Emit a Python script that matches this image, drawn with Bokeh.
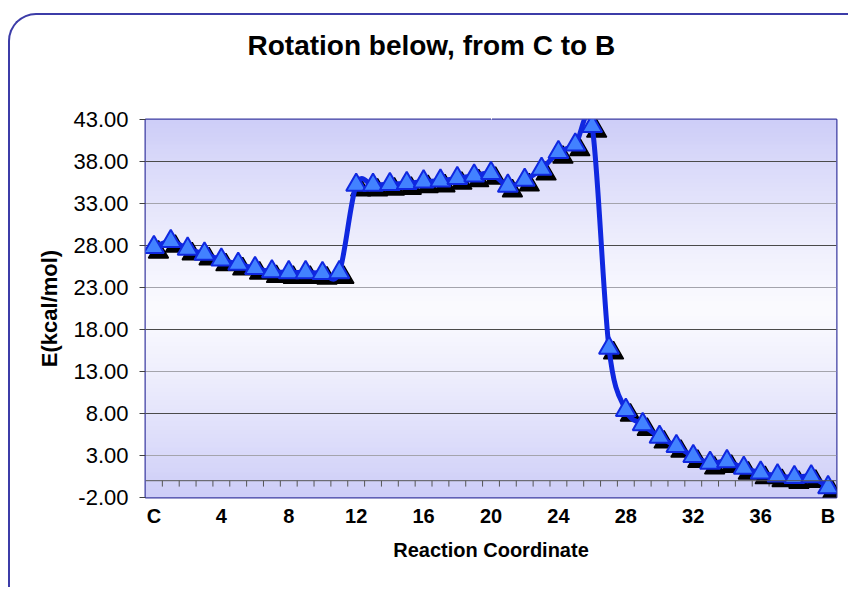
import numpy as np
from bokeh.plotting import figure
from bokeh.models import FixedTicker, NumeralTickFormatter, Grid, Range1d, Span, LinearAxis
from bokeh.embed import file_html
from bokeh.resources import INLINE

# ---- data ----
category_labels = ["C"] + [str(i) for i in range(1, 40)] + ["B"]
category_index = list(range(41))
energy = [27.8, 28.5, 27.6, 27.0, 26.3, 25.8, 25.3, 24.9, 24.8, 24.8, 24.7, 24.8,
          35.2, 35.2, 35.3, 35.4, 35.6, 35.7, 36.0, 36.3, 36.6,
          35.1, 35.8, 37.1, 39.1, 40.0, 42.2,
          15.8, 8.4, 6.7, 5.2, 4.1, 2.9, 2.1, 2.3, 1.5, 0.95, 0.6, 0.4, 0.5, -0.8]
y_ticks = [-2, 3, 8, 13, 18, 23, 28, 33, 38, 43]
x_label_ticks = [0, 4, 8, 12, 16, 20, 24, 28, 32, 36, 40]
title_text = "Rotation below, from C to B"

FONT = "Liberation Sans"
LINE_BLUE = "#1028e0"
FILL_BLUE = "#4282ff"
BORDER = "#3c3ca8"

p = figure(width=840, height=574, output_backend="svg", toolbar_location=None,
           x_range=Range1d(-0.5, 40.5), y_range=Range1d(-2, 43),
           min_border_left=135, min_border_right=14, min_border_top=104, min_border_bottom=92)
p.styles = {"margin-left": "8px", "margin-top": "13px",
            "border-top": f"2px solid {BORDER}", "border-left": f"2px solid {BORDER}",
            "border-top-left-radius": "28px"}
p.border_fill_color = "white"
p.border_fill_alpha = 0
p.outline_line_color = "#3c3ca2"
p.outline_line_width = 2

xa = p.below[0]
ya = p.left[0]

# invisible spacer above the frame (one white tick), so that the title sits higher
spacer = LinearAxis(ticker=FixedTicker(ticks=[20]), axis_line_color=None,
                    major_tick_line_color="white", minor_tick_line_color=None,
                    major_tick_out=54, major_tick_in=0, minor_tick_out=0,
                    major_label_overrides={20: ""}, major_label_standoff=0,
                    major_label_text_font_size="1px")
p.add_layout(spacer, "above")

# title
p.title.text = title_text
p.title.text_font = FONT
p.title.text_font_size = "28px"
p.title.text_font_style = "bold"
p.title.text_color = "black"
p.title.align = "left"
p.title.offset = 102
p.title.standoff = 10

# gradient background of plot area
n = 90
t = np.linspace(0, 1, n)
d = np.abs(2 * t - 1) ** 1.2
edge = np.array([206, 206, 248])
center = np.array([251, 251, 255])
cols = center[None, :] + (edge - center)[None, :] * d[:, None]
img = np.empty((n, 1), dtype=np.uint32)
view = img.view(dtype=np.uint8).reshape((n, 1, 4))
view[:, 0, 0] = cols[:, 0]
view[:, 0, 1] = cols[:, 1]
view[:, 0, 2] = cols[:, 2]
view[:, 0, 3] = 255
bg = p.image_rgba(image=[img], x=-0.5, y=-2, dw=41, dh=45)
bg.level = "image"

# grid lines (alternating dark / light)
p.xgrid.visible = False
p.ygrid.ticker = FixedTicker(ticks=y_ticks[2::2])
p.ygrid.grid_line_color = "#4a4a4a"
g2 = Grid(dimension=1, ticker=FixedTicker(ticks=y_ticks[1::2]), grid_line_color="#a4a4ac")
p.add_layout(g2)

# y axis
ya.ticker = FixedTicker(ticks=y_ticks)
ya.formatter = NumeralTickFormatter(format="0.00")
ya.axis_line_color = None
ya.major_tick_out = 6
ya.major_tick_in = 0
ya.major_tick_line_color = "#404040"
ya.minor_tick_line_color = None
ya.major_label_text_font = FONT
ya.major_label_text_font_size = "22px"
ya.major_label_text_color = "black"
ya.major_label_standoff = 11
ya.axis_label = "E(kcal/mol)"
ya.axis_label_text_font = FONT
ya.axis_label_text_font_size = "22px"
ya.axis_label_text_font_style = "bold"
ya.axis_label_text_color = "black"
ya.axis_label_standoff = 8

# x axis (labels only at bottom)
xa.ticker = FixedTicker(ticks=x_label_ticks)
xa.major_label_overrides = {i: category_labels[i] for i in x_label_ticks}
xa.axis_line_color = None
xa.major_tick_line_color = None
xa.minor_tick_line_color = None
xa.major_tick_out = 0
xa.major_tick_in = 0
xa.major_label_text_font = FONT
xa.major_label_text_font_size = "20px"
xa.major_label_text_font_style = "bold"
xa.major_label_text_color = "black"
xa.major_label_standoff = 7
xa.axis_label = "Reaction Coordinate"
xa.axis_label_text_font = FONT
xa.axis_label_text_font_size = "20px"
xa.axis_label_text_font_style = "bold"
xa.axis_label_text_color = "black"
xa.axis_label_standoff = 9

# category axis line crossing at 0, with tick marks between categories
p.add_layout(Span(location=0, dimension="width", line_color="#555555", line_width=1))
xs = np.array(category_index, dtype=float)
ys = np.array(energy, dtype=float)
tick_x = xs[:-1] + 0.5
p.segment(x0=tick_x, y0=np.zeros_like(tick_x), x1=tick_x, y1=np.full_like(tick_x, -0.7),
          line_color="#555555", line_width=1)

# marker shadows
p.scatter(xs + 0.27, ys - 0.6, marker="triangle", size=20, fill_color="black",
          line_color="black", line_width=1.5)

# smoothed line (Catmull-Rom style bezier through the data points)
px = np.concatenate([[xs[0]], xs, [xs[-1]]])
py = np.concatenate([[ys[0]], ys, [ys[-1]]])
m = len(xs) - 1
cx0 = px[1:m + 1] + (px[2:m + 2] - px[0:m]) / 6
cy0 = py[1:m + 1] + (py[2:m + 2] - py[0:m]) / 6
cx1 = px[2:m + 2] - (px[3:m + 3] - px[1:m + 1]) / 6
cy1 = py[2:m + 2] - (py[3:m + 3] - py[1:m + 1]) / 6
p.bezier(x0=xs[:-1], y0=ys[:-1], x1=xs[1:], y1=ys[1:], cx0=cx0, cy0=cy0, cx1=cx1, cy1=cy1,
         line_color=LINE_BLUE, line_width=5)

# markers
p.scatter(xs, ys, marker="triangle", size=20, fill_color=FILL_BLUE,
          line_color=LINE_BLUE, line_width=2)

open("out.html", "w").write(file_html(p, INLINE))
